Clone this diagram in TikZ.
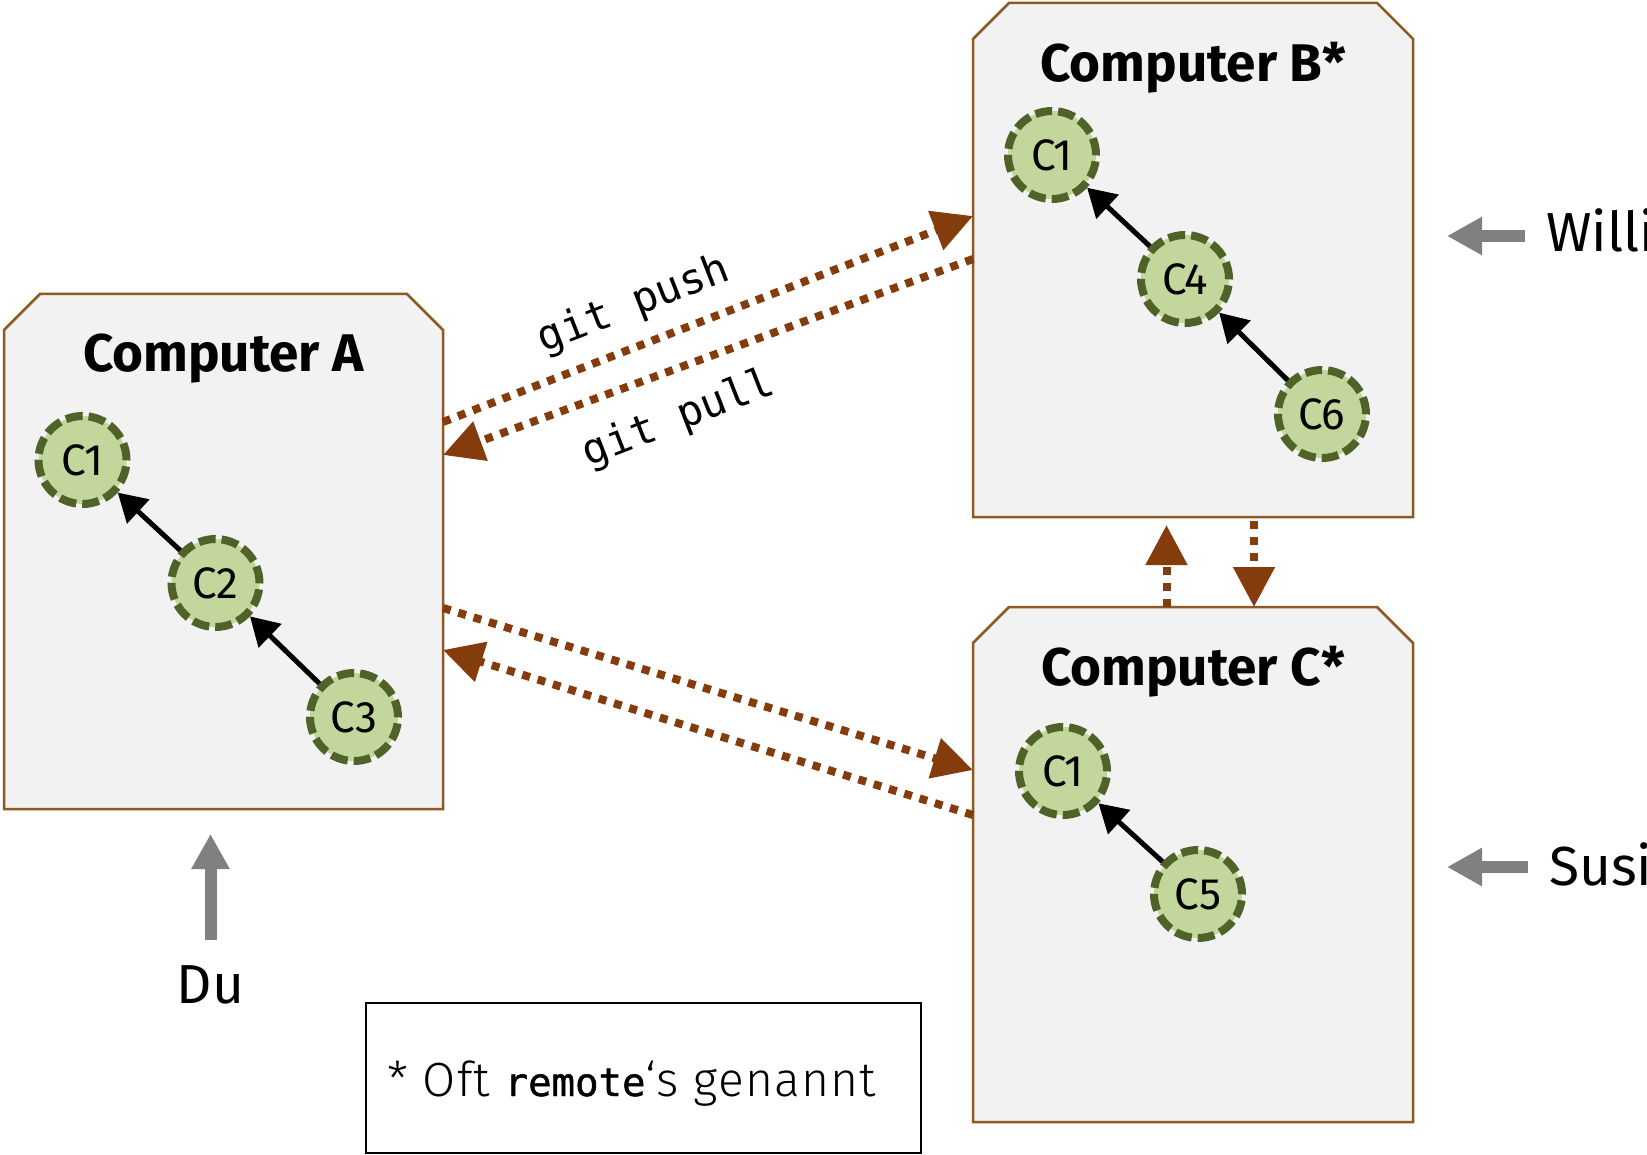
\documentclass[tikz,border=0pt]{standalone}
\usepackage{fontspec}
\setmainfont{Fira Sans}
\newfontfamily\lightfont{Fira Sans Light}[LetterSpace=2.5]
\newfontfamily\codefont{DejaVu Sans Mono}
\newfontfamily\strongcodefont{DejaVu Sans Mono}[FakeBold=1.2]
\usetikzlibrary{arrows.meta}

\definecolor{boxfill}{HTML}{F2F2F2}
\definecolor{boxline}{HTML}{8C5A22}
\definecolor{syncbrown}{HTML}{843C0C}
\definecolor{commitfill}{HTML}{C3D69B}
\definecolor{commitline}{HTML}{4F6228}
\definecolor{persongray}{HTML}{808080}

% chamfered computer box: x1, y1 (top), x2, y2 (bottom)
\newcommand\chamferbox[4]{%
  \draw[compbox] (#1,#4) -- (#1,#2+36) -- (#1+36,#2) -- (#3-36,#2)
    -- (#3,#2+36) -- (#3,#4) -- cycle;}

\tikzset{
  compbox/.style={draw=boxline, fill=boxfill, line width=2.5pt},
  boxtitle/.style={anchor=base, inner sep=0pt, font=\bfseries\fontsize{53}{53}\selectfont},
  commit/.style={circle, draw=commitline, fill=commitfill, line width=8pt,
    dash pattern=on 17pt off 6pt, minimum size=88pt, inner sep=0pt,
    font=\fontsize{44}{44}\selectfont},
  parentlink/.style={-{Triangle[length=28pt,width=32pt]}, line width=5pt, black},
  sync/.style={-{Triangle[length=40pt,width=40pt]}, line width=8pt, syncbrown,
    dash pattern=on 8pt off 8pt},
  codelabel/.style={inner sep=0pt, font=\codefont\fontsize{42}{42}\selectfont},
  person/.style={-{Triangle[length=35pt,width=36pt]}, line width=12pt, persongray},
  personlabel/.style={inner sep=0pt, font=\fontsize{55}{55}\selectfont},
}

\begin{document}
\begin{tikzpicture}[x=1pt, y=-1pt]
  \fill[white] (0,0) rectangle (1647,1155);
  \useasboundingbox (0,0) rectangle (1647,1155);

  % the three computers
  \chamferbox{4}{294}{443}{809}
  \chamferbox{973}{3}{1413}{517}
  \chamferbox{973}{607}{1413}{1122}

  \node[boxtitle] (titleA) at (223.5,372) {Computer A};
  \node[boxtitle] (titleB) at (1193,81.5) {Computer B*};
  \node[boxtitle] (titleC) at (1193,685.5) {Computer C*};

  % commit histories
  \node[commit] (a1) at (82.5,460) {C1};
  \node[commit] (a2) at (215.5,583) {C2};
  \node[commit] (a3) at (354,717) {C3};
  \draw[parentlink] (a2) -- (a1);
  \draw[parentlink] (a3) -- (a2);

  \node[commit] (b1) at (1052,155) {C1};
  \node[commit] (b4) at (1185,279) {C4};
  \node[commit] (b6) at (1322,414) {C6};
  \draw[parentlink] (b4) -- (b1);
  \draw[parentlink] (b6) -- (b4);

  \node[commit] (c1) at (1063,771) {C1};
  \node[commit] (c5) at (1198,894) {C5};
  \draw[parentlink] (c5) -- (c1);

  % attachment points on the box borders
  \coordinate (pushA) at (443,422);
  \coordinate (pushB) at (973,216);
  \coordinate (pullB) at (973,259);
  \coordinate (pullA) at (443,455);
  \coordinate (toCA) at (443,608);
  \coordinate (toCC) at (973,770);
  \coordinate (fromCC) at (973,815);
  \coordinate (fromCA) at (443,650);
  \coordinate (upC) at (1166.5,607);
  \coordinate (upB) at (1166.5,525);
  \coordinate (downB) at (1254,521);
  \coordinate (downC) at (1254,607);

  % synchronisation between the repositories
  \draw[sync] (pushA) -- (pushB);
  \draw[sync] (pullB) -- (pullA);
  \draw[sync] (toCA) -- (toCC);
  \draw[sync] (fromCC) -- (fromCA);
  \draw[sync] (upC) -- (upB);
  \draw[sync] (downB) -- (downC);

  \node[codelabel, rotate=21.3] (pushlabel) at (634,305) {git push};
  \node[codelabel, rotate=21.3] (pulllabel) at (679,419) {git pull};

  % who works where
  \node[personlabel, anchor=base] (du) at (210.5,1003) {Du};
  \node[personlabel, anchor=base west] (willi) at (1546,252) {Willi};
  \node[personlabel, anchor=base west] (susi) at (1549,885) {Susi};
  \coordinate (duTip) at (210.5,834);
  \coordinate (williTip) at (1447,236);
  \coordinate (susiTip) at (1447,867);
  \draw[person] (du.north |- 0,940) -- (duTip);
  \draw[person] (willi.west |- 0,236) ++(-21,0) -- (williTip);
  \draw[person] (susi.west |- 0,867) ++(-21,0) -- (susiTip);

  % footnote
  \node[draw=black, line width=2.5pt, minimum width=555pt, minimum height=150pt,
        inner sep=0pt] (notebox) at (643.5,1078) {};
  \node[anchor=base west, inner sep=0pt] (note) at (387,1096)
    {\lightfont\fontsize{48}{48}\selectfont * Oft
     {\strongcodefont\fontsize{39}{39}\selectfont remote}‘s genannt};
\end{tikzpicture}
\end{document}
